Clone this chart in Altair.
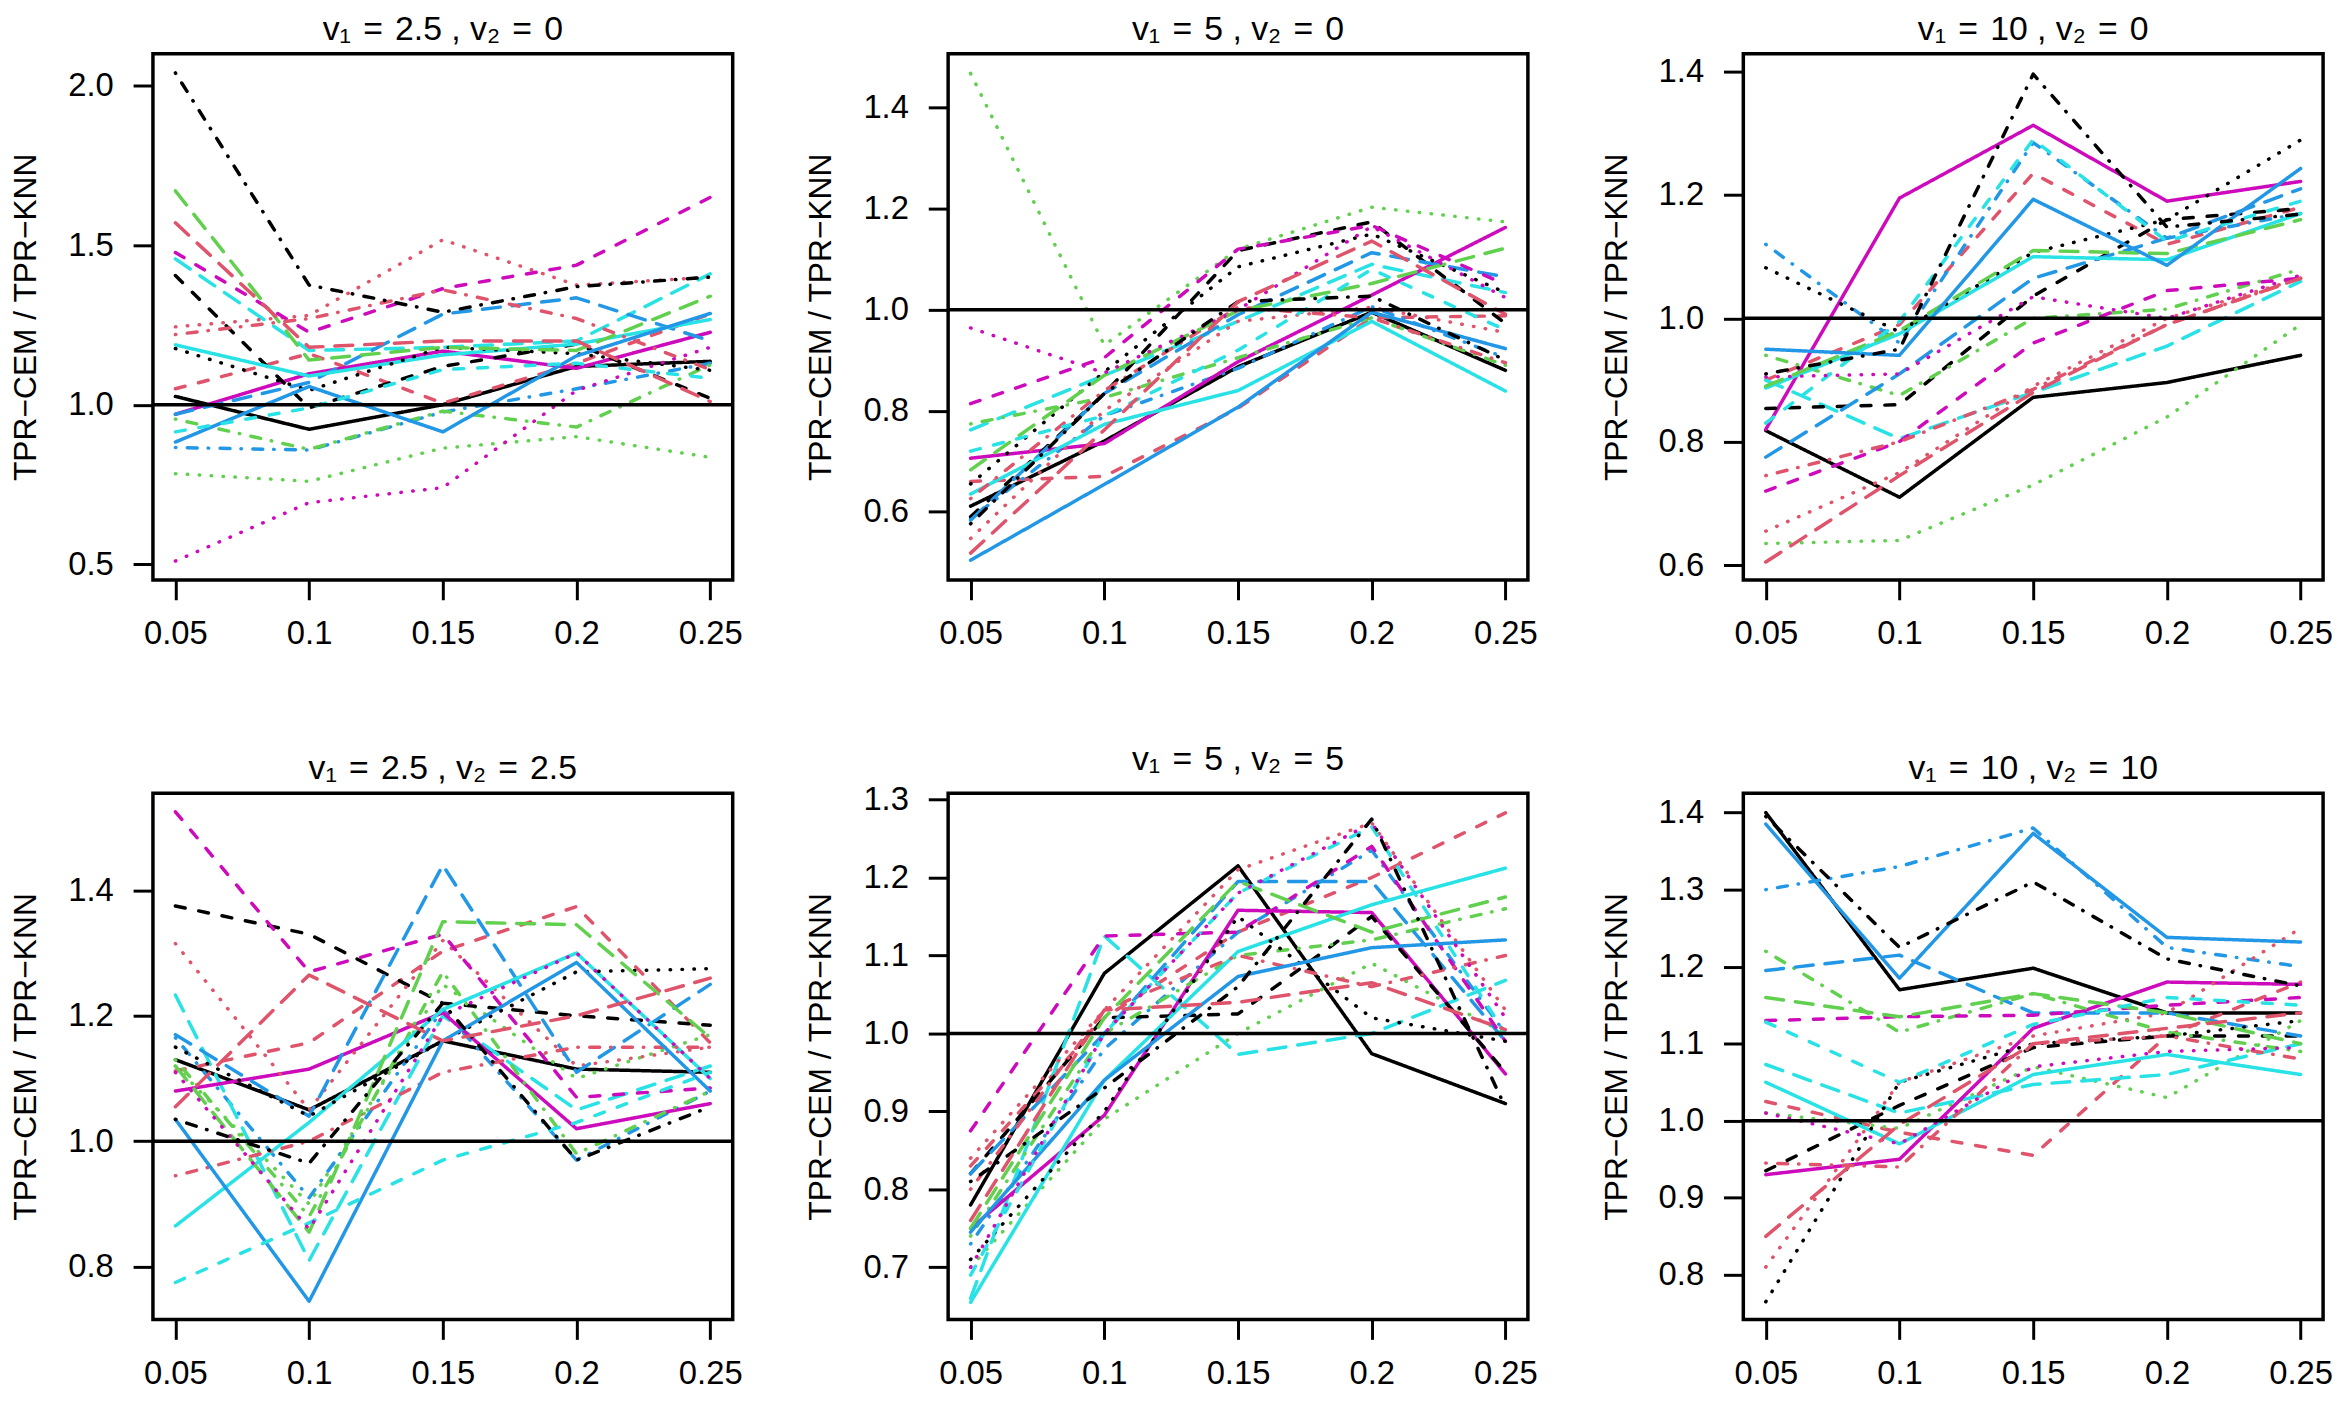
import altair as alt
import pandas as pd

# ---------------- data ----------------
x_vals = [0.05, 0.1, 0.15, 0.2, 0.25]
series_names = [f"s{i:02d}" for i in range(1, 21)]

palette = ["#000000", "#DF536B", "#61D04F", "#2297E6", "#28E2E5", "#CD0BBC"]
# solid, dashed, dotted, dot-dash, long-dash (R lty 1..5)
dash_types = [[1, 0], [10, 14], [0.5, 11.5], [0.5, 11.5, 10, 11], [18, 12]]
series_colors = [palette[i % 6] for i in range(20)]
series_dashes = [dash_types[i % 5] for i in range(20)]

EQ = " \u200a=\u200a "
titles = [
    f"v\u2081{EQ}2.5 , v\u2082{EQ}0",
    f"v\u2081{EQ}5 , v\u2082{EQ}0",
    f"v\u2081{EQ}10 , v\u2082{EQ}0",
    f"v\u2081{EQ}2.5 , v\u2082{EQ}2.5",
    f"v\u2081{EQ}5 , v\u2082{EQ}5",
    f"v\u2081{EQ}10 , v\u2082{EQ}10",
]

panel1 = [
    [1.026, 0.923, 1.0, 1.12, 1.136],
    [1.05, 1.16, 1.005, 1.13, 1.285],
    [0.784, 0.76, 0.864, 0.90, 0.835],
    [0.866, 0.858, 0.977, 1.05, 1.13],
    [1.457, 1.17, 1.18, 1.2, 1.41],
    [0.97, 1.097, 1.168, 1.114, 1.227],
    [1.405, 0.99, 1.12, 1.19, 1.02],
    [1.244, 1.28, 1.517, 1.375, 1.40],
    [0.955, 0.86, 0.98, 0.93, 1.125],
    [0.97, 1.07, 1.284, 1.335, 1.2],
    [1.1875, 1.09, 1.156, 1.19, 1.267],
    [1.477, 1.227, 1.364, 1.4375, 1.65],
    [1.176, 1.045, 1.18, 1.16, 1.108],
    [1.22, 1.27, 1.36, 1.27, 1.11],
    [1.67, 1.14, 1.18, 1.17, 1.34],
    [0.883, 1.057, 0.915, 1.153, 1.286],
    [0.915, 0.99, 1.11, 1.13, 1.083],
    [0.51, 0.693, 0.74, 1.045, 1.18],
    [2.04, 1.375, 1.29, 1.37, 1.40],
    [1.57, 1.18, 1.2, 1.2, 1.01],
]
panel2 = [
    [0.611, 0.74, 0.887, 0.995, 0.88],
    [0.66, 0.67, 0.805, 0.984, 0.988],
    [1.468, 0.93, 1.12, 1.203, 1.174],
    [0.586, 0.79, 0.884, 1.006, 0.905],
    [0.762, 0.87, 0.977, 1.09, 1.034],
    [0.706, 0.735, 0.897, 1.029, 1.163],
    [0.59, 0.834, 1.117, 1.174, 0.973],
    [0.547, 0.8, 0.977, 1.005, 0.955],
    [0.774, 0.826, 0.905, 0.984, 0.89],
    [0.583, 0.834, 0.99, 1.113, 1.065],
    [0.635, 0.773, 0.84, 0.977, 0.839],
    [0.814, 0.905, 1.12, 1.167, 1.05],
    [0.655, 0.877, 1.085, 1.15, 1.034],
    [0.626, 0.84, 1.005, 0.984, 0.895],
    [0.683, 0.87, 0.998, 1.052, 1.122],
    [0.504, 0.654, 0.807, 0.995, 0.923],
    [0.72, 0.79, 0.92, 1.08, 0.96],
    [0.964, 0.875, 1.0, 1.165, 1.024],
    [0.576, 0.834, 1.016, 1.027, 0.90],
    [0.518, 0.762, 1.016, 1.136, 0.991],
]
panel3 = [
    [0.818, 0.71, 0.872, 0.896, 0.94],
    [0.9, 0.99, 1.235, 1.12, 1.18],
    [0.635, 0.64, 0.73, 0.84, 0.99],
    [1.12, 0.96, 1.285, 1.13, 1.17],
    [0.9, 0.805, 0.88, 0.955, 1.06],
    [0.82, 1.195, 1.313, 1.19, 1.222],
    [0.854, 0.86, 1.036, 1.16, 1.178],
    [0.655, 0.75, 0.89, 1.0, 1.065],
    [0.94, 0.875, 1.0, 1.015, 1.08],
    [0.775, 0.91, 1.065, 1.13, 1.21],
    [0.887, 0.975, 1.1, 1.095, 1.17],
    [0.72, 0.8, 0.96, 1.045, 1.065],
    [1.082, 0.978, 1.107, 1.16, 1.289],
    [0.745, 0.8, 0.885, 0.99, 1.065],
    [0.89, 0.98, 1.11, 1.105, 1.16],
    [0.95, 0.94, 1.193, 1.086, 1.243],
    [0.83, 0.995, 1.29, 1.125, 1.19],
    [0.905, 0.91, 1.035, 1.0, 1.07],
    [0.91, 0.95, 1.396, 1.148, 1.169],
    [0.605, 0.745, 0.88, 0.99, 1.065],
]
panel4 = [
    [1.13, 1.05, 1.16, 1.115, 1.11],
    [1.112, 1.157, 1.303, 1.374, 1.157],
    [1.12, 0.9, 1.25, 1.1, 1.17],
    [1.165, 0.91, 1.21, 0.97, 1.08],
    [1.233, 0.81, 1.2, 1.05, 1.12],
    [1.08, 1.115, 1.205, 1.02, 1.06],
    [1.375, 1.33, 1.22, 1.2, 1.185],
    [1.315, 1.05, 1.32, 1.12, 1.15],
    [1.13, 0.88, 1.27, 0.98, 1.08],
    [1.17, 1.04, 1.44, 1.11, 1.25],
    [0.865, 1.03, 1.21, 1.3, 1.1],
    [1.525, 1.27, 1.33, 1.07, 1.085],
    [1.15, 1.04, 1.16, 1.27, 1.275],
    [0.945, 1.0, 1.11, 1.15, 1.15],
    [1.12, 0.855, 1.35, 1.345, 1.165],
    [1.035, 0.745, 1.16, 1.285, 1.08],
    [0.775, 0.87, 0.97, 1.03, 1.11],
    [1.11, 0.86, 1.2, 1.3, 1.1],
    [1.035, 0.965, 1.22, 0.97, 1.055],
    [1.055, 1.265, 1.16, 1.2, 1.26],
]
panel5 = [
    [0.78, 1.077, 1.215, 0.974, 0.91],
    [0.83, 1.02, 1.13, 1.2, 1.283],
    [0.7, 0.89, 1.0, 1.09, 1.0],
    [0.73, 0.98, 1.13, 1.235, 1.0],
    [0.66, 1.125, 0.973, 1.0, 1.068],
    [0.75, 0.895, 1.158, 1.155, 0.948],
    [0.82, 1.02, 1.025, 1.15, 0.95],
    [0.84, 1.03, 1.21, 1.27, 1.03],
    [0.74, 1.0, 1.1, 1.12, 1.16],
    [0.82, 1.0, 1.195, 1.195, 0.99],
    [0.655, 0.94, 1.105, 1.165, 1.212],
    [0.875, 1.125, 1.13, 1.24, 0.99],
    [0.71, 0.9, 1.15, 1.02, 0.99],
    [0.8, 1.03, 1.1, 1.06, 1.1],
    [0.75, 1.02, 1.195, 1.13, 1.175],
    [0.745, 0.94, 1.073, 1.11, 1.12],
    [0.69, 1.0, 1.18, 1.265, 1.0],
    [0.7, 1.0, 1.18, 1.27, 1.02],
    [0.81, 0.93, 1.06, 1.275, 0.905],
    [0.76, 1.03, 1.04, 1.065, 1.005],
]
panel6 = [
    [1.4, 1.17, 1.198, 1.14, 1.14],
    [1.025, 0.985, 0.955, 1.11, 1.18],
    [1.01, 0.99, 1.07, 1.03, 1.13],
    [1.3, 1.33, 1.38, 1.225, 1.2],
    [1.073, 1.01, 1.047, 1.06, 1.1],
    [0.93, 0.95, 1.12, 1.18, 1.177],
    [0.935, 1.02, 1.095, 1.11, 1.11],
    [0.81, 1.05, 1.11, 1.14, 1.25],
    [1.22, 1.115, 1.165, 1.115, 1.09],
    [1.195, 1.215, 1.14, 1.14, 1.11],
    [1.05, 0.97, 1.06, 1.086, 1.06],
    [1.13, 1.135, 1.137, 1.15, 1.16],
    [0.765, 1.05, 1.1, 1.11, 1.13],
    [0.945, 0.94, 1.1, 1.11, 1.08],
    [1.16, 1.135, 1.165, 1.14, 1.1],
    [1.385, 1.185, 1.373, 1.238, 1.232],
    [1.128, 1.05, 1.125, 1.16, 1.15],
    [1.01, 0.97, 1.07, 1.09, 1.095],
    [1.395, 1.225, 1.31, 1.21, 1.175],
    [0.85, 0.995, 1.1, 1.12, 1.14],
]
panels = [panel1, panel2, panel3, panel4, panel5, panel6]

y_domains = [
    [0.451, 2.10],
    [0.465, 1.507],
    [0.576, 1.429],
    [0.716, 1.5545],
    [0.633, 1.308],
    [0.742, 1.425],
]
y_ticks = [
    [0.5, 1.0, 1.5, 2.0],
    [0.6, 0.8, 1.0, 1.2, 1.4],
    [0.6, 0.8, 1.0, 1.2, 1.4],
    [0.8, 1.0, 1.2, 1.4],
    [0.7, 0.8, 0.9, 1.0, 1.1, 1.2, 1.3],
    [0.8, 0.9, 1.0, 1.1, 1.2, 1.3, 1.4],
]
ref_level = [1.0]

# ---------------- chart ----------------
FONT = "Liberation Sans"
W, H = 584, 530


def make_panel(k):
    rows = []
    for s_idx, vals in enumerate(panels[k]):
        for xv, yv in zip(x_vals, vals):
            rows.append({"series": series_names[s_idx], "x": xv, "y": yv})
    df = pd.DataFrame(rows)
    xs = alt.Scale(domain=[0.0416, 0.2584], nice=False, zero=False)
    ys = alt.Scale(domain=y_domains[k], nice=False, zero=False)
    lines = alt.Chart(df).mark_line(strokeWidth=3.5, strokeCap="round", strokeJoin="round").encode(
        x=alt.X("x:Q", scale=xs,
                axis=alt.Axis(values=x_vals, format="~g", title=None, grid=False, domain=False,
                              tickSize=20, tickWidth=3, tickColor="black",
                              labelFontSize=33, labelFont=FONT, labelColor="black",
                              labelPadding=18, labelFlush=False, labelOverlap=False)),
        y=alt.Y("y:Q", scale=ys,
                axis=alt.Axis(values=y_ticks[k], format=".1f", title="TPR\u2212CEM / TPR\u2212KNN",
                              grid=False, domain=False,
                              tickSize=20, tickWidth=3, tickColor="black",
                              labelFontSize=33, labelFont=FONT, labelColor="black",
                              labelPadding=20, labelAngle=0, labelFlush=False, labelOverlap=False,
                              titleFont=FONT, titleFontSize=32, titleFontWeight="normal",
                              titleColor="black", titleAngle=-90, titleX=-128, titleY=H / 2,
                              titleAlign="center", titleBaseline="middle")),
        color=alt.Color("series:N", scale=alt.Scale(domain=series_names, range=series_colors), legend=None),
        strokeDash=alt.StrokeDash("series:N", scale=alt.Scale(domain=series_names, range=series_dashes),
                                  legend=None),
    )
    rule = alt.Chart(pd.DataFrame({"level": ref_level})).mark_rule(
        color="black", strokeWidth=3.5).encode(y=alt.Y("level:Q", scale=ys))
    return alt.layer(lines, rule).properties(
        width=W, height=H,
        title=alt.TitleParams(titles[k], fontSize=34, font=FONT, fontWeight="normal",
                              color="black", anchor="middle", offset=7),
    )


chart = alt.concat(
    *[make_panel(k) for k in range(6)],
    columns=3,
    spacing={"row": 215, "column": 217},
    bounds="flush",
).properties(
    padding={"left": 0, "top": -2, "right": 0, "bottom": 0},
    background="white",
).configure_view(stroke="black", strokeWidth=3.5).resolve_scale(
    color="independent", strokeDash="independent")

chart.save("out.html", embed_options={"renderer": "svg", "actions": False})
